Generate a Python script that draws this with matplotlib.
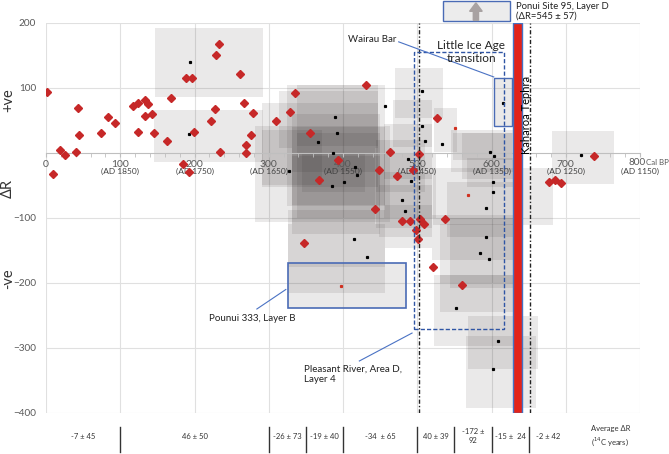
import matplotlib
matplotlib.use("Agg")
import matplotlib.pyplot as plt
from matplotlib.patches import Rectangle, FancyArrow
from matplotlib.ticker import MultipleLocator

plt.rcParams['font.family'] = ['Lato', 'DejaVu Sans']

# red diamonds: cal BP vs delta R
red_x = [2, 9, 19, 25, 40, 43, 44, 74, 84, 93,
         117, 124, 124, 134, 138, 134, 143, 146, 163, 169,
         184, 188, 193, 197, 199, 222, 227, 229, 233, 235,
         261, 266, 270, 270, 276, 279, 310, 328, 336, 356,
         368, 348, 431, 526, 463, 503, 393, 449, 473, 494,
         443, 480, 490, 504, 509, 498, 501, 537,
         677, 686, 693, 738, 521, 560]
red_y = [94, -32, 4, -3, 2, 69, 28, 30, 55, 46,
         72, 77, 33, 81, 75, 57, 60, 31, 19, 85,
         -17, 116, -30, 115, 33, 49, 67, 151, 167, 2,
         121, 77, 13, 0, 28, 61, 49, 63, 93, 30,
         -41, -138, 105, 54, 1, -1, -11, -26, -36, -26,
         -86, -104, -104, -102, -109, -119, -132, -102,
         -44, -41, -46, -5, -175, -203]

# small black dots (box centres)
dot_x = [194, 192, 367, 327, 456, 389, 392, 387, 416, 419,
         385, 402, 488, 506, 506, 511, 491, 479, 483, 415,
         534, 602, 602, 592, 615, 603, 721, 598, 592, 584,
         597, 552, 609, 602, 432]
dot_y = [140, 29, 17, -27, 73, 55, 30, 0, -22, -34,
         -51, -44, -10, 96, 42, 19, -43, -72, -89, -132,
         14, -45, -60, -85, 77, -4, -3, 2, -130, -154,
         -163, -238, -289, -333, -160]

small_red_x = [551, 569, 397]
small_red_y = [38, -65, -205]

# calibrated age ranges and delta R ranges (grey boxes)
age_lo = [147, 146, 282, 291, 314, 325, 331, 338, 331, 338, 331, 331, 345, 326, 326, 326, 291,
          470, 468, 522, 455, 445, 455, 445, 448, 457, 548,
          567, 521, 540, 520, 530, 544, 531, 523, 569, 566, 560, 545, 681, 604]
age_hi = [292, 292, 463, 447, 447, 457, 450, 447, 457, 450, 443, 450, 430, 457, 457, 485, 372,
          535, 520, 554, 520, 510, 525, 520, 520, 520, 628,
          629, 683, 640, 640, 640, 632, 643, 643, 663, 660, 640, 640, 765, 628]
dr_lo = [86, -14, -106, -52, 8, -82, -30, 10, -80, -100, -110, -125, -60, -176, -215, -239, -50,
         54, 9, 2, -40, -60, -100, -115, -130, -146, -11,
         -52, -111, -130, -165, -200, -207, -245, -297, -332, -393, -40, -30, -47, 41]
dr_hi = [192, 66, 41, 77, 95, 105, 60, 105, 40, 30, 8, -5, 0, -88, -110, -170, 35,
         130, 81, 69, 45, 20, 0, -30, -50, -80, 30,
         -8, -23, -45, -95, -110, -100, -187, -187, -251, -281, 30, 35, 34, 116]

ticks = [0, 100, 200, 300, 400, 500, 600, 700, 800]
ad_labels = ['', '(AD 1850)', '(AD 1750)', '(AD 1650)', '(AD 1550)',
             '(AD 1450)', '(AD 1350)', '(AD 1250)', '(AD 1150)']

# bottom row: average delta R per period
sep_x = [100, 300, 350, 400, 500, 550, 600, 650]
avg_x = [50, 200, 325, 375, 450, 525, 575, 625, 676, 760]
avg_labels = ['-7 ± 45', '46 ± 50', '-26 ± 73', '-19 ± 40', '-34  ± 65', '40 ± 39',
              '-172 ±\n92', '-15 ±  24', '-2 ± 42', 'Average ΔR\n($^{14}$C years)']

fig = plt.figure(figsize=(6.69, 4.54), dpi=100)
ax = fig.add_axes([46 / 669, 1 - 413 / 454, 594 / 669, 390 / 454])
ax.set_xlim(0, 800)
ax.set_ylim(-400, 200)

for s in ['top', 'right', 'left']:
    ax.spines[s].set_visible(False)
ax.spines['bottom'].set_position(('data', 0))
ax.spines['bottom'].set_color('#bfbfbf')
ax.spines['bottom'].set_zorder(2)

ax.set_xticks(ticks)
ax.set_xticklabels([str(t) for t in ticks[:-1]] + [''], fontsize=7.5, color='#595959')
ax.xaxis.set_minor_locator(MultipleLocator(20))
ax.tick_params(axis='x', which='both', length=3, color='#bfbfbf', pad=2)
ax.set_yticks([-400, -300, -200, -100, 100, 200])
ax.tick_params(axis='y', length=0, labelsize=7.2, labelcolor='#595959', pad=7)

for t in ticks:
    ax.axvline(t, color='#e0e0e0', lw=0.8, zorder=0)
for t in [-400, -300, -200, -100, 100, 200]:
    ax.axhline(t, color='#e0e0e0', lw=0.8, zorder=0)

for t, lab in zip(ticks, ad_labels):
    ax.text(t, -29, lab, fontsize=6, ha='center', va='center', color='#404040')
# last tick label with the unit beside it
ax.text(ticks[-1] - 4, -14, '800', fontsize=7.2, ha='center', va='center', color='#595959')
ax.text(808, -14, 'Cal BP', fontsize=5.7, ha='left', va='center', color='#595959')

for a0, a1, d0, d1 in zip(age_lo, age_hi, dr_lo, dr_hi):
    ax.add_patch(Rectangle((a0, d0), a1 - a0, d1 - d0, facecolor='#231c1c',
                           alpha=0.095, lw=0, zorder=1))

ax.plot(dot_x, dot_y, 's', color='black', ms=1.3, zorder=3)
ax.plot(small_red_x, small_red_y, 's', color='#d03020', ms=1.3, zorder=3)
ax.plot(red_x, red_y, 'D', color='#c62828', ms=3.6, mec='#c62828', zorder=5)

# Kaharoa tephra and period boundaries
ax.add_patch(Rectangle((629, -400), 12, 600, facecolor='#e2231a', edgecolor='#4472c4',
                       lw=1, zorder=6))
ax.text(647.5, 58, 'Kaharoa Tephra', rotation=90, fontsize=8, ha='center', va='center',
        zorder=7)
for xv in [502, 652]:
    ax.plot([xv, xv], [-400, 200], color='#222222', lw=1, ls=(0, (3, 1.5, 1, 1.5)), zorder=6)

# Little Ice Age box
ax.add_patch(Rectangle((496, -271), 121, 426, fill=False, edgecolor='#2f55a4',
                       lw=1, ls=(0, (3, 1.5)), zorder=6))
ax.text(573, 155, 'Little Ice Age\ntransition', fontsize=8.5, ha='center', va='center',
        color='#222222', zorder=7, linespacing=1.2)

# Wairau Bar
ax.add_patch(Rectangle((604, 41), 24, 75, fill=False, edgecolor='#4a6bb5', lw=1, zorder=6))
ax.plot([475, 603], [171, 117], color='#4a72c4', lw=0.8, zorder=6)
ax.text(439, 174, 'Wairau Bar', fontsize=7, ha='center', va='center', color='#222222')

# Pounui 333
ax.add_patch(Rectangle((326, -239), 159, 69, fill=False, edgecolor='#4a6bb5', lw=1.2, zorder=6))
ax.plot([284, 323], [-240, -210], color='#4a72c4', lw=0.8)
ax.text(278, -254, 'Pounui 333, Layer B', fontsize=7, ha='center', va='center', color='#222222')

# Pleasant River
ax.plot([422, 493], [-320, -277], color='#4a72c4', lw=0.8)
ax.text(347, -341, 'Pleasant River, Area D,\nLayer 4', fontsize=7, ha='left', va='center',
        color='#222222', linespacing=1.2)

# Ponui Site 95 (off scale)
ax.add_patch(Rectangle((535, 203), 90, 31, facecolor='#ececec', edgecolor='#4a6bb5',
                       lw=1, clip_on=False, zorder=6))
ax.add_patch(FancyArrow(579, 204, 0, 27, width=7, head_width=17, head_length=13,
                        length_includes_head=True, color='#a8a2a2', clip_on=False, zorder=7))
ax.text(633, 218, 'Ponui Site 95, Layer D\n(ΔR=545 ± 57)', fontsize=6.8, ha='left',
        va='center', color='#222222', linespacing=1.15)

# bottom summary row
for xv in sep_x:
    ax.plot([xv, xv], [-421, -460], color='#333333', lw=1, clip_on=False)
for xv, lab in zip(avg_x, avg_labels):
    ax.text(xv, -436, lab, fontsize=5.5, ha='center', va='center', color='#333333',
            linespacing=1.3)

fig.text(8 / 669, 1 - 100 / 454, '+ve', rotation=90, fontsize=10.5, ha='center', va='center',
         color='#333333')
fig.text(8 / 669, 1 - 188 / 454, 'ΔR', rotation=90, fontsize=10.5, ha='center', va='center',
         color='#333333')
fig.text(8 / 669, 1 - 279 / 454, '-ve', rotation=90, fontsize=10.5, ha='center', va='center',
         color='#333333')

fig.savefig('out.png', dpi=100)
